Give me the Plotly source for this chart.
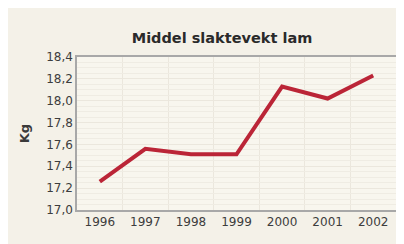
import plotly.graph_objects as go

years = [1996, 1997, 1998, 1999, 2000, 2001, 2002]
weights = [17.26, 17.56, 17.51, 17.51, 18.13, 18.02, 18.23]
year_labels = ["1996", "1997", "1998", "1999", "2000", "2001", "2002"]
y_ticks = [17.0, 17.2, 17.4, 17.6, 17.8, 18.0, 18.2, 18.4]

fig = go.Figure()
fig.add_trace(go.Scatter(
    x=years, y=weights, mode="lines",
    line=dict(color="#bb2537", width=4),
    hoverinfo="skip", showlegend=False,
))

tickfont = dict(family="DejaVu Sans, sans-serif", size=12, color="#3d3d3d")

fig.update_layout(
    width=404, height=244,
    margin=dict(l=69, r=16, t=49, b=42),
    paper_bgcolor="#f4f1e8",
    plot_bgcolor="#f8f6ee",
    separators=", ",
    font=dict(family="DejaVu Sans, sans-serif", color="#444444"),
    title=dict(text="<b>Middel slaktevekt lam</b>", xref="container", x=214 / 404,
               xanchor="center", y=1 - 30 / 244, yanchor="middle",
               font=dict(family="DejaVu Sans, sans-serif", size=14.5, color="#2a2a2a")),
)
fig.update_xaxes(
    range=[1995.5, 2002.5], tickvals=years, ticktext=year_labels,
    showgrid=False, zeroline=False, automargin=False,
    showline=True, mirror=True, linecolor="#a8a8a8", linewidth=1.5,
    ticks="", tickfont=tickfont, ticklabelstandoff=0,
    minor=dict(tick0=1995.5, dtick=1, showgrid=True, gridcolor="#ebe7dd", gridwidth=1),
)
fig.update_yaxes(
    range=[17.0, 18.4], tickvals=y_ticks, tickformat=".1f",
    showgrid=True, gridcolor="#ebe7dd", gridwidth=1, zeroline=False, automargin=False,
    showline=True, mirror=True, linecolor="#a8a8a8", linewidth=1.5,
    ticks="", tickfont=tickfont, ticklabelstandoff=0,
    minor=dict(dtick=0.05, showgrid=True, gridcolor="#efece3", gridwidth=1),
    title=dict(text="<b>Kg</b>", font=dict(family="DejaVu Sans, sans-serif", size=13, color="#3a3a3a"), standoff=14),
)

fig.write_html("out.html")
